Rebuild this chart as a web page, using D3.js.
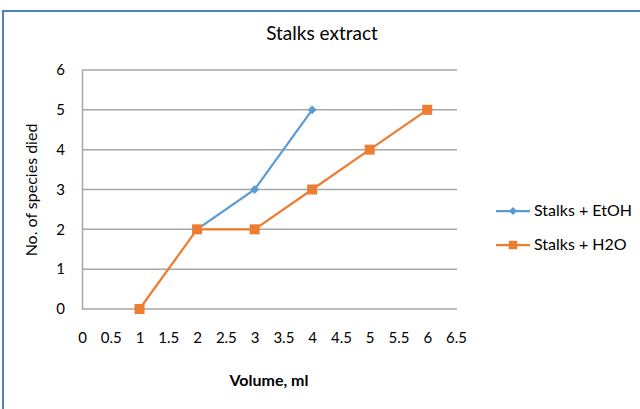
<!DOCTYPE html>
<html>
<head>
<meta charset="utf-8">
<script src="https://cdn.jsdelivr.net/npm/d3@7"></script>
<style>
  body { margin: 0; background: #fff; }
  svg { display: block; font-family: Lato, "Open Sans", sans-serif; }
</style>
</head>
<body>
<svg id="canvas" width="640" height="409"></svg>
<script>
let title = 'Stalks extract'
let xTitle = 'Volume, ml'
let yTitle = 'No. of species died'

let xTicks = [0, 0.5, 1, 1.5, 2, 2.5, 3, 3.5, 4, 4.5, 5, 5.5, 6, 6.5]
let yTicks = [0, 1, 2, 3, 4, 5, 6]

let etohName = 'Stalks + EtOH'
let etohX = [2, 3, 4]
let etohY = [2, 3, 5]

let h2oName = 'Stalks + H2O'
let h2oX = [1, 2, 3, 4, 5, 6]
let h2oY = [0, 2, 2, 3, 4, 5]

let blue = '#5b9bd5'
let orange = '#ed7d31'

let canvas = d3.select('#canvas')

// chart frame (only top and left edges show in the crop)
canvas.append('line').attr('x1', 2).attr('x2', 640).attr('y1', 11).attr('y2', 11)
      .attr('stroke', '#4f81bd').attr('stroke-width', 2)
canvas.append('line').attr('x1', 3).attr('x2', 3).attr('y1', 10).attr('y2', 409)
      .attr('stroke', '#4f81bd').attr('stroke-width', 2)

let xScale = d3.scaleLinear().domain([0, 6.5]).range([82, 456])
let yScale = d3.scaleLinear().domain([0, 6]).range([309, 70])

// gridlines
canvas.append('g')
      .selectAll('line')
      .data(yTicks.filter(d => d > 0))
      .enter()
      .append('line')
      .attr('x1', xScale(0))
      .attr('x2', xScale(6.5) + 1)
      .attr('y1', d => yScale(d))
      .attr('y2', d => yScale(d))
      .attr('stroke', '#a6a6a6')
      .attr('stroke-width', 1.5)

// axes
let xAxis = d3.axisBottom(xScale).tickValues(xTicks).tickSize(0).tickPadding(23)
    .tickFormat(d => String(d))
let yAxis = d3.axisLeft(yScale).tickValues(yTicks).tickSize(0).tickPadding(17)
    .tickFormat(d3.format('d'))

let gx = canvas.append('g').attr('transform', 'translate(0,' + yScale(0) + ')').call(xAxis)
gx.select('.domain').attr('stroke', '#a6a6a6').attr('stroke-width', 1.5)
  .attr('d', 'M' + xScale(0) + ',0H' + (xScale(6.5) + 1))
gx.selectAll('text').attr('font-size', 15).attr('fill', '#000').attr('font-family', 'Lato, sans-serif')

let gy = canvas.append('g').attr('transform', 'translate(' + xScale(0) + ',0)').call(yAxis)
gy.select('.domain').attr('stroke', '#a6a6a6').attr('stroke-width', 1.5)
gy.selectAll('text').attr('font-size', 15).attr('fill', '#000').attr('font-family', 'Lato, sans-serif')

// titles
canvas.append('text').attr('x', 322).attr('y', 40).attr('text-anchor', 'middle')
      .attr('font-size', 19).text(title)
canvas.append('text').attr('x', 269).attr('y', 386).attr('text-anchor', 'middle')
      .attr('font-size', 16).attr('font-weight', 'bold').text(xTitle)
canvas.append('text').attr('transform', 'translate(37,190) rotate(-90)').attr('text-anchor', 'middle')
      .attr('font-size', 16).text(yTitle)

let line = d3.line().x(d => xScale(d[0])).y(d => yScale(d[1]))

let etoh = etohX.map((x, i) => [x, etohY[i]])
let h2o = h2oX.map((x, i) => [x, h2oY[i]])

canvas.append('path').datum(etoh).attr('d', line).attr('fill', 'none')
      .attr('stroke', blue).attr('stroke-width', 2.25)
canvas.append('g').selectAll('path').data(etoh).enter().append('path')
      .attr('d', d3.symbol(d3.symbolDiamond2, 50))
      .attr('transform', d => 'translate(' + xScale(d[0]) + ',' + yScale(d[1]) + ')')
      .attr('fill', blue)

canvas.append('path').datum(h2o).attr('d', line).attr('fill', 'none')
      .attr('stroke', orange).attr('stroke-width', 2.25)
canvas.append('g').selectAll('rect').data(h2o).enter().append('rect')
      .attr('x', d => xScale(d[0]) - 5)
      .attr('y', d => yScale(d[1]) - 5)
      .attr('width', 10).attr('height', 10)
      .attr('fill', orange)

// legend
let legend = [[etohName, blue, 'diamond'], [h2oName, orange, 'square']]
let lg = canvas.append('g').selectAll('g').data(legend).enter().append('g')
      .attr('transform', (d, i) => 'translate(496,' + (211 + i * 34) + ')')
lg.append('line').attr('x1', 0).attr('x2', 34).attr('stroke', d => d[1]).attr('stroke-width', 2.25)
lg.append('path')
  .attr('d', d => d[2] === 'diamond' ? d3.symbol(d3.symbolDiamond2, 40)() : d3.symbol(d3.symbolSquare2, 90)())
  .attr('transform', 'translate(17,0)')
  .attr('fill', d => d[1])
lg.append('text').attr('x', 38).attr('y', 5).attr('font-size', 16).text(d => d[0])
</script>
</body>
</html>
